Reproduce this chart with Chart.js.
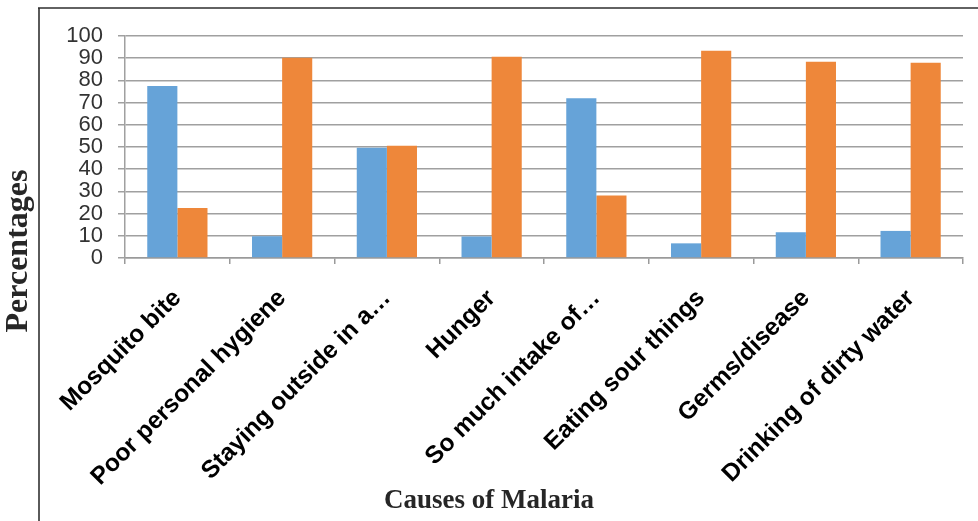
<!DOCTYPE html>
<html>
<head>
<meta charset="utf-8">
<title>Causes of Malaria</title>
<script src="https://cdn.jsdelivr.net/npm/chart.js@4/dist/chart.umd.min.js"></script>
<style>
  html, body { margin: 0; padding: 0; background: #ffffff; }
  #wrap { position: relative; width: 978px; height: 521px; }
</style>
</head>
<body>
<div id="wrap"><canvas id="chart" width="978" height="521"></canvas></div>
<script>
// Survey responses on perceived causes of malaria (percent of respondents)
const causes = [
  'Mosquito bite',
  'Poor personal hygiene',
  'Staying outside in a\u2026',
  'Hunger',
  'So much intake of\u2026',
  'Eating sour things',
  'Germs/disease',
  'Drinking of dirty water'
];
const yesValues = [77.5, 9.8, 49.7, 9.7, 72, 6.6, 11.6, 12.2];
const noValues  = [22.5, 90.2, 50.6, 90.6, 28.1, 93.4, 88.4, 88];
const yTicks = [0, 10, 20, 30, 40, 50, 60, 70, 80, 90, 100];
const yAxisTitle = 'Percentages';
const xAxisTitle = 'Causes of Malaria';

// Outer frame and the two axis titles, placed on the canvas
const framePlugin = {
  id: 'frameAndTitles',
  afterDraw(chart) {
    const ctx = chart.ctx;
    ctx.save();
    ctx.strokeStyle = '#5a5a5a';
    ctx.lineWidth = 2;
    ctx.beginPath();
    ctx.moveTo(39, 521);
    ctx.lineTo(39, 8);
    ctx.stroke();
    ctx.strokeStyle = '#2e2e2e';
    ctx.lineWidth = 1.5;
    ctx.beginPath();
    ctx.moveTo(38, 8);
    ctx.lineTo(978, 8);
    ctx.stroke();

    ctx.fillStyle = '#262626';
    ctx.font = 'bold 32px "Liberation Serif", serif';
    ctx.textAlign = 'center';
    ctx.textBaseline = 'middle';
    ctx.save();
    ctx.translate(19, 251);
    ctx.rotate(-Math.PI / 2);
    ctx.fillText(yAxisTitle, 0, 0);
    ctx.restore();

    ctx.font = 'bold 27px "Liberation Serif", serif';
    ctx.fillText(xAxisTitle, 489, 501);
    ctx.restore();
  }
};

new Chart(document.getElementById('chart'), {
  type: 'bar',
  data: {
    labels: causes,
    datasets: [
      { label: 'Yes', data: yesValues, backgroundColor: '#66A3D8', borderWidth: 0 },
      { label: 'No',  data: noValues,  backgroundColor: '#EE873A', borderWidth: 0 }
    ]
  },
  options: {
    responsive: false,
    animation: false,
    devicePixelRatio: 1,
    layout: { padding: { top: 36, right: 15, left: 0, bottom: 0 } },
    datasets: { bar: { categoryPercentage: 0.575, barPercentage: 1.0 } },
    plugins: { legend: { display: false }, tooltip: { enabled: false } },
    scales: {
      x: {
        grid: {
          offset: true,
          drawOnChartArea: false,
          drawTicks: true,
          tickLength: 6,
          color: '#9a9a9a',
          lineWidth: 1.5
        },
        border: { color: '#9a9a9a', width: 1.5 },
        ticks: {
          minRotation: 45,
          maxRotation: 45,
          autoSkip: false,
          padding: 20,
          color: '#000000',
          font: { family: '"Liberation Sans", Arial, sans-serif', size: 24.5, weight: 'bold' }
        },
        afterFit(scale) { scale.height = 263; }
      },
      y: {
        min: 0,
        max: 100,
        afterBuildTicks(scale) { scale.ticks = yTicks.map(v => ({ value: v })); },
        grid: { color: '#a0a0a0', lineWidth: 1.5, tickLength: 7 },
        border: { color: '#a0a0a0', width: 1.5 },
        ticks: {
          autoSkip: false,
          padding: 15,
          color: '#333333',
          font: { family: '"Liberation Sans", Arial, sans-serif', size: 22 }
        },
        afterFit(scale) { scale.width = 125; }
      }
    }
  },
  plugins: [framePlugin]
});
</script>
</body>
</html>
